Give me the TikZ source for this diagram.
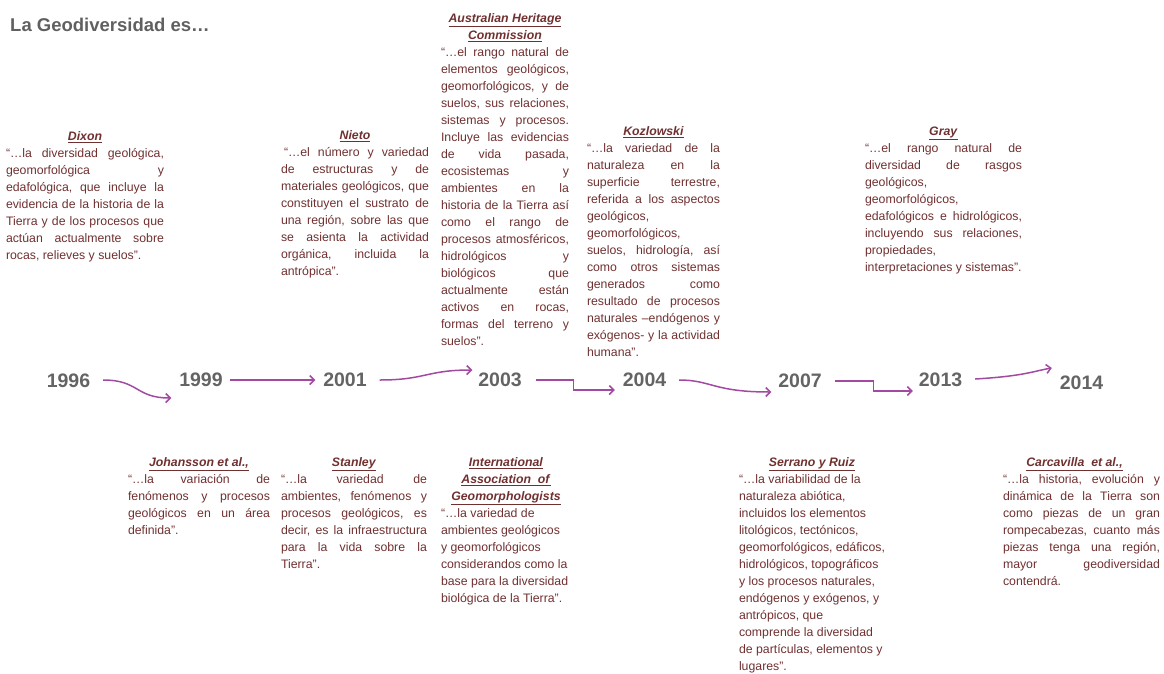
\documentclass[tikz,border=0pt]{standalone}
\usepackage{fontspec}
\setmainfont{Liberation Sans}
\usetikzlibrary{arrows.meta}
\definecolor{txtc}{RGB}{112,48,48}
\definecolor{yearc}{RGB}{100,100,100}
\definecolor{titlec}{RGB}{96,96,96}
\definecolor{arrc}{RGB}{162,74,162}
\newdimen\gbw
\newcommand\gjust[1]{\hbox to\gbw{#1}}
\newcommand\gleft[1]{\hbox to\gbw{#1\hfil}}
\newcommand\gctr[1]{\hbox to\gbw{\hfil#1\hfil}}
\newcommand\ghead[1]{\gctr{\underline{\textbf{\textit{#1}}}}}
\newcommand\gblock[2]{\vtop{\frenchspacing\gbw=#1\relax\hsize=\gbw\baselineskip=17pt\lineskiplimit=-20pt\lineskip=0pt #2}}
\tikzset{
  blockbox/.style={anchor=base west,inner sep=0pt,outer sep=0pt,text=txtc,font=\fontsize{12.3}{17}\selectfont},
  yearbox/.style={inner sep=0pt,outer sep=0pt,text=yearc,font=\fontsize{19.5}{22}\selectfont\bfseries},
  titlebox/.style={anchor=west,inner sep=0pt,text=titlec,font=\fontsize{18.5}{20}\selectfont\bfseries},
  tl/.style={draw=arrc,line width=1.5pt,-{Straight Barb[length=4.5pt,width=9pt]}}
}
\begin{document}
\begin{tikzpicture}[x=1pt,y=-1pt]
\useasboundingbox (0,0) rectangle (1164,673);
\node[titlebox] (title) at (10,25) {La Geodiversidad es…};

% upper blocks
\node[blockbox] (dixon) at (6,140.5) {\gblock{158pt}{%
\ghead{Dixon}
\gjust{“…la diversidad geológica,}
\gjust{geomorfológica y}
\gjust{edafológica, que incluye la}
\gjust{evidencia de la historia de la}
\gjust{Tierra y de los procesos que}
\gjust{actúan actualmente sobre}
\gleft{rocas, relieves y suelos”.}}};

\node[blockbox] (nieto) at (281,139.5) {\gblock{148pt}{%
\ghead{Nieto}
\gjust{\hskip3pt “…el número y variedad}
\gjust{de estructuras y de}
\gjust{materiales geológicos, que}
\gjust{constituyen el sustrato de}
\gjust{una región, sobre las que}
\gjust{se asienta la actividad}
\gjust{orgánica, incluida la}
\gleft{antrópica”.}}};

\node[blockbox] (ahc) at (441,22.5) {\gblock{128pt}{%
\ghead{Australian Heritage}
\ghead{Commission}
\gjust{“…el rango natural de}
\gjust{elementos geológicos,}
\gjust{geomorfológicos, y de}
\gjust{suelos, sus relaciones,}
\gjust{sistemas y procesos.}
\gjust{Incluye las evidencias}
\gjust{de vida pasada,}
\gjust{ecosistemas y}
\gjust{ambientes en la}
\gjust{historia de la Tierra así}
\gjust{como el rango de}
\gjust{procesos atmosféricos,}
\gjust{hidrológicos y}
\gjust{biológicos que}
\gjust{actualmente están}
\gjust{activos en rocas,}
\gjust{formas del terreno y}
\gleft{suelos”.}}};

\node[blockbox] (koz) at (587,135.5) {\gblock{133pt}{%
\ghead{Kozlowski}
\gjust{“…la variedad de la}
\gjust{naturaleza en la}
\gjust{superficie terrestre,}
\gjust{referida a los aspectos}
\gleft{geológicos,}
\gleft{geomorfológicos,}
\gjust{suelos, hidrología, así}
\gjust{como otros sistemas}
\gjust{generados como}
\gjust{resultado de procesos}
\gjust{naturales –endógenos y}
\gjust{exógenos- y la actividad}
\gleft{humana”.}}};

\node[blockbox] (gray) at (865,135.5) {\gblock{157pt}{%
\ghead{Gray}
\gjust{“…el rango natural de}
\gjust{diversidad de rasgos}
\gleft{geológicos,}
\gleft{geomorfológicos,}
\gjust{edafológicos e hidrológicos,}
\gjust{incluyendo sus relaciones,}
\gleft{propiedades,}
\gleft{interpretaciones y sistemas”.}}};

% lower blocks
\node[blockbox] (joh) at (128,466.5) {\gblock{142pt}{%
\ghead{Johansson et al.,}
\gjust{“…la variación de}
\gjust{fenómenos y procesos}
\gjust{geológicos en un área}
\gleft{definida”.}}};

\node[blockbox] (stan) at (281,466.5) {\gblock{146pt}{%
\ghead{Stanley}
\gjust{“…la variedad de}
\gjust{ambientes, fenómenos y}
\gjust{procesos geológicos, es}
\gjust{decir, es la infraestructura}
\gjust{para la vida sobre la}
\gleft{Tierra”.}}};

\node[blockbox] (iag) at (441,466.5) {\gblock{130pt}{%
\ghead{International}
\ghead{Association\ \ of}
\ghead{Geomorphologists}
\gleft{“…la variedad de}
\gleft{ambientes geológicos}
\gleft{y geomorfológicos}
\gleft{considerandos como la}
\gleft{base para la diversidad}
\gleft{biológica de la Tierra”.}}};

\node[blockbox] (serr) at (739,466.5) {\gblock{146pt}{%
\ghead{Serrano y Ruiz}
\gleft{“…la variabilidad de la}
\gleft{naturaleza abiótica,}
\gleft{incluidos los elementos}
\gleft{litológicos, tectónicos,}
\gleft{geomorfológicos, edáficos,}
\gleft{hidrológicos, topográficos}
\gleft{y los procesos naturales,}
\gleft{endógenos y exógenos, y}
\gleft{antrópicos, que}
\gleft{comprende la diversidad}
\gleft{de partículas, elementos y}
\gleft{lugares”.}}};

\node[blockbox] (carc) at (1003,466.5) {\gblock{157pt}{%
\gctr{\underline{\textbf{\textit{Carcavilla\ \ et al.,}}}\hskip14pt}
\gjust{“…la historia, evolución y}
\gjust{dinámica de la Tierra son}
\gjust{como piezas de un gran}
\gjust{rompecabezas, cuanto más}
\gjust{piezas tenga una región,}
\gjust{mayor geodiversidad}
\gleft{contendrá.}}};

% years
\node[yearbox] (y1996) at (68.5,381) {1996};
\node[yearbox] (y1999) at (201,380) {1999};
\node[yearbox] (y2001) at (345,380) {2001};
\node[yearbox] (y2003) at (500,380) {2003};
\node[yearbox] (y2004) at (644.5,380) {2004};
\node[yearbox] (y2007) at (800,381) {2007};
\node[yearbox] (y2013) at (940.5,380) {2013};
\node[yearbox] (y2014) at (1081.5,383) {2014};

% connectors
\draw[tl] ([xshift=13pt,yshift=1pt]y1996.east) .. controls +(36,0) and +(-36,0) .. ([xshift=-8pt,yshift=-18pt]y1999.west);
\draw[tl] ([xshift=7pt]y1999.east) -- ([xshift=-8pt]y2001.west);
\draw[tl] ([xshift=13pt]y2001.east) .. controls +(46,0) and +(-46,0) .. ([xshift=-6pt,yshift=10pt]y2003.west);
\draw[tl] ([xshift=14pt]y2003.east) -- ++(38,0) |- ([xshift=-8pt,yshift=-10pt]y2004.west);
\draw[tl] ([xshift=13pt]y2004.east) .. controls +(32,0) and +(-58,0) .. ([xshift=-7pt,yshift=-11pt]y2007.west);
\draw[tl] ([xshift=13pt]y2007.east) -- ++(39,0) |- ([xshift=-6pt,yshift=-11pt]y2013.west);
\draw[tl] ([xshift=13pt,yshift=1pt]y2013.east) .. controls +(50,-3) and +(-18,3) .. ([xshift=-8pt,yshift=15pt]y2014.west);
\end{tikzpicture}
\end{document}
